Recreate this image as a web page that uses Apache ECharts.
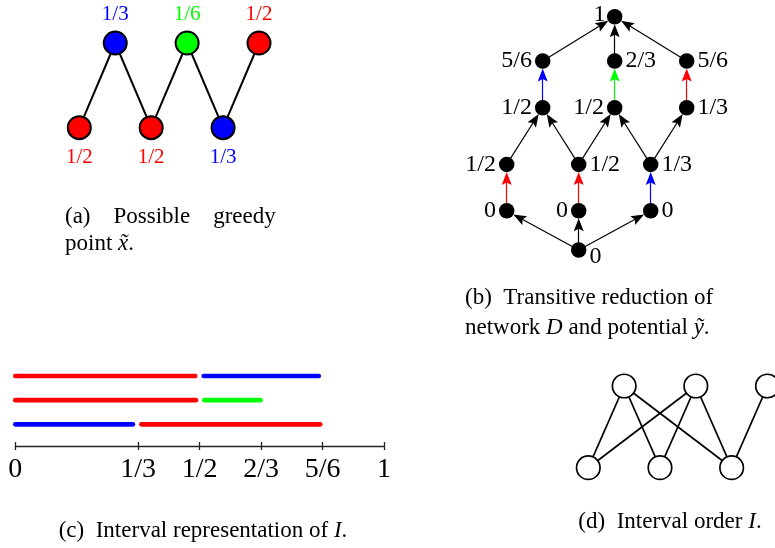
<!DOCTYPE html>
<html><head><meta charset="utf-8">
<script src="https://cdn.jsdelivr.net/npm/echarts@6/dist/echarts.min.js"></script>
<style>html,body{margin:0;padding:0;background:#fff}#c{width:775px;height:548px}</style>
</head><body><div id="c"></div>
<script>
// ---------- (a) possible greedy point x~ ----------
const greedyX = [0, 1, 2, 3, 4, 5];
const greedyLevel = [0, 1, 0, 1, 0, 1];
const greedyValues = ['1/2', '1/3', '1/2', '1/6', '1/3', '1/2'];
const greedyEdges = [[0, 1], [1, 2], [2, 3], [3, 4], [4, 5]];

// ---------- (b) transitive reduction of network D, potential y~ ----------
const netX = [1, 0, 1, 2, 0, 1, 2, 0.5, 1.5, 2.5, 0.5, 1.5, 2.5, 1.5];
const netY = [0, 16.8, 16.8, 16.8, 36.7, 36.7, 36.7, 61, 61, 61, 81, 81, 81, 100];
const netPotential = ['0', '0', '0', '0', '1/2', '1/2', '1/3', '1/2', '1/2', '1/3', '5/6', '2/3', '5/6', '1'];
const netEdgeFrom = [0, 0, 0, 1, 2, 3, 4, 5, 5, 6, 6, 7, 8, 9, 10, 11, 12];
const netEdgeTo = [1, 2, 3, 4, 5, 6, 7, 7, 8, 8, 9, 10, 11, 12, 13, 13, 13];
const netEdgeWeight = [null, null, null, '1/2', '1/2', '1/3', null, null, null, null, null, '1/3', '1/6', '1/2', null, null, null];

// ---------- (c) interval representation of I ----------
const intervalRow = [3, 3, 2, 2, 1, 1];
const intervalStart = [0, 0.511, 0, 0.513, 0, 0.342];
const intervalEnd = [0.488, 0.823, 0.490, 0.665, 0.319, 0.827];
const intervalWeight = ['1/2', '1/3', '1/2', '1/6', '1/3', '1/2'];
const tickValues = [0, 1 / 3, 1 / 2, 2 / 3, 5 / 6, 1];
const tickLabels = ['0', '1/3', '1/2', '2/3', '5/6', '1'];

// ---------- (d) interval order I ----------
const orderX = [0.5, 1.5, 2.5, 0, 1, 2];
const orderY = [1, 1, 1, 0, 0, 0];
const orderEdges = [[0, 3], [0, 4], [0, 5], [1, 3], [1, 4], [1, 5], [2, 5]];

// ---------- styles ----------
const SERIF = "'Liberation Serif', 'Times New Roman', serif";
const weightColor = { '1/2': '#ff0000', '1/3': '#0000ff', '1/6': '#00ff00' };
const netLabelSide = ['right', 'left', 'left', 'right', 'left', 'right', 'right', 'left', 'left', 'right', 'left', 'right', 'right', 'left'];
const NODE_B = 15.5;   // visible node diameter in (b)
const ARROW_L = 13;    // arrow head length in (b)
// arrow head (10 wide, 13 long) inside a 13x13 box
const ARROW_PATH = 'path://M0,0 M13,0 M6.5,0 L11.5,13 L6.5,10.5 L1.5,13 Z';

const chart = echarts.init(document.getElementById('c'), null, { renderer: 'canvas' });

const hiddenGrid = (g) => Object.assign({ show: false, containLabel: false, outerBoundsMode: 'none' }, g);
const tickLabelFor = (v) => {
  for (let i = 0; i < tickValues.length; i++) if (Math.abs(v - tickValues[i]) < 1e-6) return tickLabels[i];
  return '';
};

const series = [];

// (a)
series.push({
  type: 'graph', coordinateSystem: 'cartesian2d', xAxisIndex: 0, yAxisIndex: 0,
  silent: true, symbol: 'circle', symbolSize: 23,
  itemStyle: { borderColor: '#000', borderWidth: 2 },
  lineStyle: { color: '#000', width: 2, opacity: 1 },
  data: greedyX.map((x, i) => ({
    name: 'a' + i, value: [x, greedyLevel[i]],
    itemStyle: { color: weightColor[greedyValues[i]] },
    label: {
      show: true, position: greedyLevel[i] ? 'top' : 'bottom', distance: greedyLevel[i] ? 6 : 7,
      color: weightColor[greedyValues[i]], fontFamily: SERIF, fontSize: 21
    }
  })),
  label: { formatter: (p) => greedyValues[p.dataIndex] },
  links: greedyEdges.map(e => ({ source: e[0], target: e[1] }))
});

// (b) edges (graph with transparent contact nodes so arrow tips touch the dots)
series.push({
  type: 'graph', coordinateSystem: 'cartesian2d', xAxisIndex: 1, yAxisIndex: 1,
  silent: true, symbol: 'circle', symbolSize: NODE_B + ARROW_L - 0.5,
  itemStyle: { color: 'rgba(0,0,0,0)' },
  edgeSymbol: ['none', ARROW_PATH], edgeSymbolSize: [1, ARROW_L],
  lineStyle: { color: '#000', width: 1.2, opacity: 1 },
  data: netX.map((x, i) => ({ name: 'n' + i, value: [x, netY[i]] })),
  links: netEdgeFrom.map((s, i) => ({
    source: s, target: netEdgeTo[i],
    lineStyle: { color: netEdgeWeight[i] ? weightColor[netEdgeWeight[i]] : '#000' }
  }))
});
// (b) nodes
series.push({
  type: 'scatter', xAxisIndex: 1, yAxisIndex: 1, silent: true, clip: false, z: 5,
  symbolSize: NODE_B, itemStyle: { color: '#000', opacity: 1 },
  label: {
    show: true, formatter: (p) => netPotential[p.dataIndex],
    color: '#000', fontFamily: SERIF, fontSize: 24, distance: 3
  },
  data: netX.map((x, i) => ({
    value: [x, netY[i]],
    label: { position: netLabelSide[i], offset: i === 0 ? [0, 7] : (i === 13 ? [1.5, -1.5] : [0, 0]) }
  }))
});

// (c)
intervalRow.forEach((r, i) => {
  series.push({
    type: 'line', xAxisIndex: 2, yAxisIndex: 2, silent: true, clip: false,
    symbol: 'none', animation: false,
    lineStyle: { color: weightColor[intervalWeight[i]], width: 4.7, cap: 'round' },
    data: [[intervalStart[i], r], [intervalEnd[i], r]]
  });
});

// (d)
series.push({
  type: 'graph', coordinateSystem: 'cartesian2d', xAxisIndex: 4, yAxisIndex: 3,
  silent: true, symbol: 'circle', symbolSize: 23.5,
  itemStyle: { color: '#fff', borderColor: '#000', borderWidth: 1.7 },
  lineStyle: { color: '#000', width: 1.7, opacity: 1 },
  data: orderX.map((x, i) => ({ name: 'd' + i, value: [x, orderY[i]] })),
  links: orderEdges.map(e => ({ source: e[0], target: e[1] }))
});

const cap = (x, y, text, align) => ({
  type: 'text', x: x, y: y, silent: true,
  style: {
    text: text, fill: '#000', fontFamily: SERIF, fontSize: 23,
    align: align || 'left', verticalAlign: 'middle',
    rich: { i: { fontStyle: 'italic', fontFamily: SERIF, fontSize: 23, fill: '#000' } }
  }
});

chart.setOption({
  animation: false,
  backgroundColor: '#fff',
  grid: [
    hiddenGrid({ left: 79.3, top: 43, width: 179.7, height: 84.7 }),
    hiddenGrid({ left: 506.7, top: 16.7, width: 180, height: 233.3 }),
    hiddenGrid({ left: 15.3, top: 376, width: 368.7, height: 70 }),
    hiddenGrid({ left: 588.3, top: 386, width: 179.2, height: 81.7 })
  ],
  xAxis: [
    { gridIndex: 0, type: 'value', min: 0, max: 5, show: false },
    { gridIndex: 1, type: 'value', min: 0, max: 2.5, show: false },
    {
      gridIndex: 2, type: 'value', min: 0, max: 1, position: 'bottom',
      axisLine: { show: true, onZero: false, lineStyle: { color: '#222', width: 1.3 } },
      axisTick: { show: true, customValues: tickValues, length: 4, lineStyle: { color: '#222', width: 1.3 } },
      axisLabel: { show: true, customValues: tickValues, formatter: tickLabelFor, margin: 10, fontFamily: SERIF, fontSize: 28, color: '#000' },
      splitLine: { show: false }
    },
    {
      gridIndex: 2, type: 'value', min: 0, max: 1, position: 'bottom',
      axisLine: { show: false, onZero: false },
      axisTick: { show: true, inside: true, customValues: tickValues, length: 4, lineStyle: { color: '#222', width: 1.3 } },
      axisLabel: { show: false }, splitLine: { show: false }
    },
    { gridIndex: 3, type: 'value', min: 0, max: 2.5, show: false }
  ],
  yAxis: [
    { gridIndex: 0, type: 'value', min: 0, max: 1, show: false },
    { gridIndex: 1, type: 'value', min: 0, max: 100, show: false },
    { gridIndex: 2, type: 'value', min: 0.1, max: 3, show: false },
    { gridIndex: 3, type: 'value', min: 0, max: 1, show: false }
  ],
  series: series,
  graphic: [
    cap(65, 216.7, '(a)    Possible    greedy'),
    cap(65, 243.5, 'point {i|x\u0303}.'),
    cap(465, 297.5, '(b)  Transitive reduction of'),
    cap(465, 328, 'network {i|D} and potential {i|y\u0303}.'),
    cap(203, 531, '(c)  Interval representation of {i|I}.', 'center'),
    cap(670, 522, '(d)  Interval order {i|I}.', 'center')
  ]
});
</script></body></html>
